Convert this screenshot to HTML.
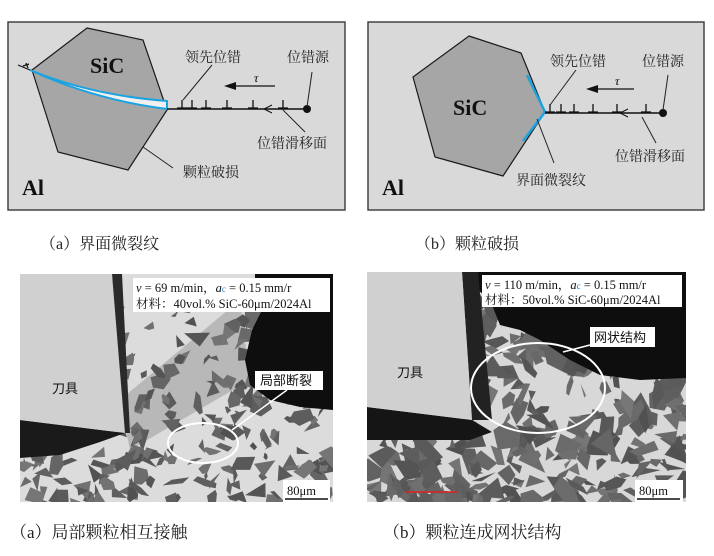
<!DOCTYPE html>
<html><head><meta charset="utf-8"><style>
html,body{margin:0;padding:0;background:#fff}
svg{display:block}
.cn{font-family:"Liberation Serif","Noto Serif CJK SC",serif}
.cs{font-family:"Liberation Sans","Noto Sans CJK SC",sans-serif}
</style></head><body>
<svg width="714" height="556" viewBox="0 0 714 556" xmlns="http://www.w3.org/2000/svg">
<!-- Panel a -->
<rect x="8" y="22" width="337" height="188" fill="#d9d9d9" stroke="#444" stroke-width="1.5"/>
<polygon points="87,28 143,40 167,110 128,170 58,152 32,70" fill="#a6a6a6" stroke="#1a1a1a" stroke-width="1.2"/>
<path d="M30,70 Q90,95 167,101 L167,109 Q95,100 30,70 Z" fill="#f0f0f0" stroke="#1aa3e0" stroke-width="2"/>
<line x1="18" y1="65" x2="30" y2="70" stroke="#111" stroke-width="1.2"/>
<path d="M26,63 L28,68 M23,66 L29,64" stroke="#111" stroke-width="1.2"/>
<line x1="167" y1="109" x2="307" y2="109" stroke="#111" stroke-width="1.5"/>
<circle cx="307" cy="109" r="4" fill="#111"/>
<path d="M272,105 L264,109 L272,113" fill="none" stroke="#111" stroke-width="1"/>
<g stroke="#111" stroke-width="1.3">
<path d="M182,100 v8 M177,108 h10"/><path d="M192,100 v8 M187,108 h10"/><path d="M206,100 v8 M201,108 h10"/><path d="M227,100 v8 M222,108 h10"/><path d="M253,100 v8 M248,108 h10"/><path d="M283,100 v8 M278,108 h10"/>
</g>
<line x1="275" y1="86" x2="233" y2="86" stroke="#111" stroke-width="1.3"/>
<polygon points="224,86 236,82 236,90" fill="#111"/>
<text x="254" y="82" class="cn" font-size="12" font-style="italic">τ</text>
<g stroke="#222" stroke-width="1">
<line x1="212" y1="65" x2="183" y2="100"/><line x1="312" y1="72" x2="307" y2="107"/><line x1="305" y1="132" x2="283" y2="110"/><line x1="173" y1="168" x2="143" y2="147"/>
</g>
<text x="90" y="73" class="cn" font-size="22" font-weight="bold" fill="#111">SiC</text>
<text x="22" y="195" class="cn" font-size="22" font-weight="bold" fill="#111">Al</text>
<g class="cn" font-size="14" fill="#222">
<text x="185" y="62">领先位错</text><text x="287" y="62">位错源</text><text x="257" y="148">位错滑移面</text><text x="183" y="177">颗粒破损</text>
</g>
<text x="40" y="249" class="cn" font-size="16" fill="#222">（a）界面微裂纹</text>

<!-- Panel b -->
<rect x="368" y="22" width="336" height="188" fill="#d9d9d9" stroke="#444" stroke-width="1.5"/>
<polygon points="469,36 521,53 545,112 503,176 435,157 413,77" fill="#a6a6a6" stroke="#1a1a1a" stroke-width="1.2"/>
<path d="M527,75 L545,112 L523,141" fill="none" stroke="#1aa3e0" stroke-width="2.5"/>
<line x1="545" y1="113" x2="663" y2="113" stroke="#111" stroke-width="1.5"/>
<circle cx="663" cy="113" r="4" fill="#111"/>
<path d="M628,109 L620,113 L628,117" fill="none" stroke="#111" stroke-width="1"/>
<g stroke="#111" stroke-width="1.3">
<path d="M550,104 v8 M545,112 h10"/><path d="M561,104 v8 M556,112 h10"/><path d="M574,104 v8 M569,112 h10"/><path d="M593,104 v8 M588,112 h10"/><path d="M617,104 v8 M612,112 h10"/><path d="M646,104 v8 M641,112 h10"/>
</g>
<line x1="634" y1="89" x2="595" y2="89" stroke="#111" stroke-width="1.3"/>
<polygon points="586,89 598,85 598,93" fill="#111"/>
<text x="615" y="85" class="cn" font-size="12" font-style="italic">τ</text>
<g stroke="#222" stroke-width="1">
<line x1="576" y1="70" x2="550" y2="105"/><line x1="668" y1="75" x2="663" y2="110"/><line x1="656" y1="143" x2="642" y2="117"/><line x1="554" y1="163" x2="537" y2="119"/>
</g>
<text x="453" y="115" class="cn" font-size="22" font-weight="bold" fill="#111">SiC</text>
<text x="382" y="195" class="cn" font-size="22" font-weight="bold" fill="#111">Al</text>
<g class="cn" font-size="14" fill="#222">
<text x="550" y="66">领先位错</text><text x="642" y="66">位错源</text><text x="615" y="161">位错滑移面</text><text x="516" y="185">界面微裂纹</text>
</g>
<text x="415" y="249" class="cn" font-size="16" fill="#222">（b）颗粒破损</text>

<defs>
<clipPath id="ca"><rect x="20" y="274" width="313" height="228"/></clipPath>
<clipPath id="cb"><rect x="367" y="272" width="319" height="230"/></clipPath>
</defs>
<g clip-path="url(#ca)">
<rect x="20" y="274" width="313" height="228" fill="#dcdcdc"/>
<polygon points="120,400 240,300 250,380 130,450" fill="#b8b8b8"/>
<g id="pa" fill="#6e6e6e"></g>
<polygon points="255,274 333,274 333,410 300,407 270,400 250,385 245,360 252,330 262,310 255,290" fill="#0e0e0e"/>
<polygon points="112,274 122,274 130,433 118,433" fill="#2a2a2a"/>
<polygon points="20,420 125,433 100,442 60,455 20,458" fill="#1a1a1a"/>
<polygon points="20,274 112,274 125,433 20,420" fill="#d0d0d0"/>
<text x="52" y="393" class="cs" font-size="13" fill="#111">刀具</text>
<rect x="133" y="278" width="197" height="34" fill="#fff"/>
<text x="136" y="292" class="cn" font-size="12.5" fill="#111"><tspan font-style="italic">v</tspan> = 69 m/min，<tspan font-style="italic">a</tspan><tspan font-size="9" fill="#1a7fd0">c</tspan> = 0.15 mm/r</text>
<text x="136" y="308" class="cn" font-size="12.5" fill="#111">材料：40vol.% SiC-60μm/2024Al</text>
<ellipse cx="203" cy="443" rx="35" ry="20" fill="none" stroke="#fff" stroke-width="2"/>
<line x1="287" y1="390" x2="232" y2="430" stroke="#fff" stroke-width="1.5"/>
<rect x="255" y="371" width="68" height="19" fill="#fff"/>
<text x="260" y="385" class="cs" font-size="13" fill="#111">局部断裂</text>
<rect x="283" y="480" width="47" height="22" fill="#fff"/>
<text x="287" y="495" class="cn" font-size="12.5" fill="#111">80μm</text>
<line x1="285" y1="499" x2="328" y2="499" stroke="#111" stroke-width="1.5"/>
</g>

<g clip-path="url(#cb)">
<rect x="367" y="272" width="319" height="230" fill="#d8d8d8"/>
<g id="pb" fill="#5e5e5e"></g>
<polygon points="470,272 686,272 686,378 640,380 600,375 570,360 540,340 520,330 500,325 490,300 478,290" fill="#0e0e0e"/>
<polygon points="462,272 478,272 492,420 472,420" fill="#222"/>
<polygon points="367,407 472,420 492,432 470,440 367,440" fill="#151515"/>
<polygon points="367,272 462,272 472,420 367,407" fill="#d0d0d0"/>
<text x="397" y="377" class="cs" font-size="13" fill="#111">刀具</text>
<rect x="482" y="275" width="200" height="32" fill="#fff"/>
<text x="485" y="289" class="cn" font-size="12.5" fill="#111"><tspan font-style="italic">v</tspan> = 110 m/min，<tspan font-style="italic">a</tspan><tspan font-size="9" fill="#1a7fd0">c</tspan> = 0.15 mm/r</text>
<text x="485" y="304" class="cn" font-size="12.5" fill="#111">材料：50vol.% SiC-60μm/2024Al</text>
<ellipse cx="538" cy="388" rx="67" ry="45" fill="none" stroke="#fff" stroke-width="2"/>
<line x1="590" y1="345" x2="563" y2="352" stroke="#fff" stroke-width="1.5"/>
<rect x="590" y="327" width="65" height="20" fill="#fff"/>
<text x="594" y="342" class="cs" font-size="13" fill="#111">网状结构</text>
<line x1="406" y1="492" x2="457" y2="492" stroke="#e02020" stroke-width="1.5"/>
<rect x="635" y="480" width="48" height="22" fill="#fff"/>
<text x="639" y="495" class="cn" font-size="12.5" fill="#111">80μm</text>
<line x1="637" y1="499" x2="680" y2="499" stroke="#111" stroke-width="1.5"/>
</g>

<text x="10" y="538" class="cn" font-size="17" fill="#222">（a）局部颗粒相互接触</text>
<text x="383" y="538" class="cn" font-size="17" fill="#222">（b）颗粒连成网状结构</text>
</svg>
<script>
(function(){
var s=12345;function r(){s=(s*1103515245+12345)%2147483648;return s/2147483648;}
var NS="http://www.w3.org/2000/svg";
function fill(id,x0,y0,w,h,n,sz,elMin){
 var g=document.getElementById(id);
 for(var i=0;i<n;i++){
  var cx=x0+r()*w,cy=y0+r()*h,k=3+Math.floor(r()*3),a0=r()*6.28,L=sz*(0.5+r()),el=elMin+r()*(1-elMin),rot=r()*3.14,p=[];
  for(var j=0;j<k;j++){var a=a0+j*6.28/k+(r()-.5)*.8;var rr=L*(0.6+r()*0.5);
   var dx=Math.cos(a)*rr,dy=Math.sin(a)*rr*el;
   var X=cx+dx*Math.cos(rot)-dy*Math.sin(rot),Y=cy+dx*Math.sin(rot)+dy*Math.cos(rot);
   p.push(X.toFixed(1)+","+Y.toFixed(1));}
  var e=document.createElementNS(NS,"polygon");e.setAttribute("points",p.join(" "));
  var c=80+Math.floor(r()*40);e.setAttribute("fill","rgb("+c+","+c+","+c+")");g.appendChild(e);
 }
}
fill("pa",115,300,220,205,190,10,0.3);
fill("pa",20,450,120,55,40,12,0.3);
fill("pb",470,300,220,205,260,14,0.15);
fill("pb",367,430,110,75,70,14,0.15);
})();
</script>
</body></html>
